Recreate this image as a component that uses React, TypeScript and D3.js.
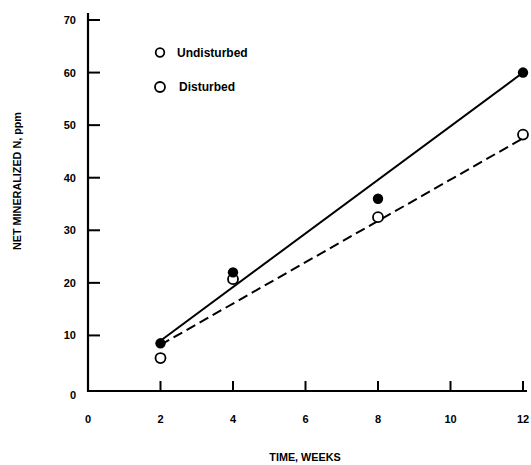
import React from "react";
import * as d3 from "d3";

const weeks = [2, 4, 8, 12];
const undisturbed = [8.5, 22, 36, 60];
const disturbed = [5.7, 20.7, 32.5, 48.2];
const fitWeeks = [2, 12];
const fitUndisturbed = [9, 60];
const fitDisturbed = [8.2, 47.5];
const xTicks = [0, 2, 4, 6, 8, 10, 12];
const yTicks = [0, 10, 20, 30, 40, 50, 60, 70];
const legendLabels = ["Undisturbed", "Disturbed"];

const W = 531;
const H = 465;

export default function App() {
  const x = d3.scaleLinear().domain([0, 12]).range([88, 523]);
  const y = d3.scaleLinear().domain([0, 70]).range([388, 20]);
  const line = d3
    .line<[number, number]>()
    .x((d) => x(d[0]))
    .y((d) => y(d[1]));
  const font = "'Liberation Sans', Arial, sans-serif";
  const solid = fitWeeks.map((w, i) => [w, fitUndisturbed[i]] as [number, number]);
  const dashed = fitWeeks.map((w, i) => [w, fitDisturbed[i]] as [number, number]);
  const axisY0 = 391;

  return (
    <svg
      width={W}
      height={H}
      style={{ position: "absolute", left: 0, top: 0, background: "#fff" }}
      fontFamily={font}
      fontWeight="bold"
    >
      {/* axes */}
      <line x1={88} x2={88} y1={13} y2={axisY0 + 1} stroke="#000" strokeWidth={2.2} />
      <line x1={87} x2={527} y1={axisY0} y2={axisY0} stroke="#000" strokeWidth={2.2} />
      {yTicks.map((t) => (
        <g key={"y" + t}>
          {t > 0 && (
            <line x1={88} x2={100} y1={y(t)} y2={y(t)} stroke="#000" strokeWidth={2} />
          )}
          <text
            x={76}
            y={t === 0 ? 395 : y(t)}
            textAnchor="end"
            dominantBaseline="central"
            fontSize={11}
          >
            {t}
          </text>
        </g>
      ))}
      {xTicks.map((t) => (
        <g key={"x" + t}>
          {t > 0 && (
            <line x1={x(t)} x2={x(t)} y1={axisY0} y2={axisY0 - 10} stroke="#000" strokeWidth={2} />
          )}
          <text x={x(t)} y={419} textAnchor="middle" dominantBaseline="central" fontSize={11}>
            {t}
          </text>
        </g>
      ))}
      <text x={305} y={457} textAnchor="middle" dominantBaseline="central" fontSize={10.8}>
        TIME, WEEKS
      </text>
      <text
        transform={`translate(17,181) rotate(-90)`}
        textAnchor="middle"
        dominantBaseline="central"
        fontSize={10.8}
      >
        NET MINERALIZED N, ppm
      </text>

      {/* fit lines */}
      <path d={line(solid) || ""} fill="none" stroke="#000" strokeWidth={2} />
      <path
        d={line(dashed) || ""}
        fill="none"
        stroke="#000"
        strokeWidth={2}
        strokeDasharray="10,5"
      />

      {/* points */}
      {weeks.map((w, i) => (
        <circle
          key={"d" + w}
          cx={x(w)}
          cy={y(disturbed[i])}
          r={5}
          fill="#fff"
          stroke="#000"
          strokeWidth={1.8}
        />
      ))}
      {weeks.map((w, i) => (
        <circle key={"u" + w} cx={x(w)} cy={y(undisturbed[i])} r={5.2} fill="#000" />
      ))}

      {/* legend */}
      {legendLabels.map((lab, i) => (
        <g key={lab}>
          <circle
            cx={160}
            cy={i === 0 ? 52.5 : 87}
            r={i === 0 ? 4.3 : 5}
            fill="#fff"
            stroke="#000"
            strokeWidth={1.8}
          />
          <text
            x={i === 0 ? 177 : 179}
            y={i === 0 ? 52.5 : 87}
            dominantBaseline="central"
            fontSize={12}
          >
            {lab}
          </text>
        </g>
      ))}
    </svg>
  );
}
